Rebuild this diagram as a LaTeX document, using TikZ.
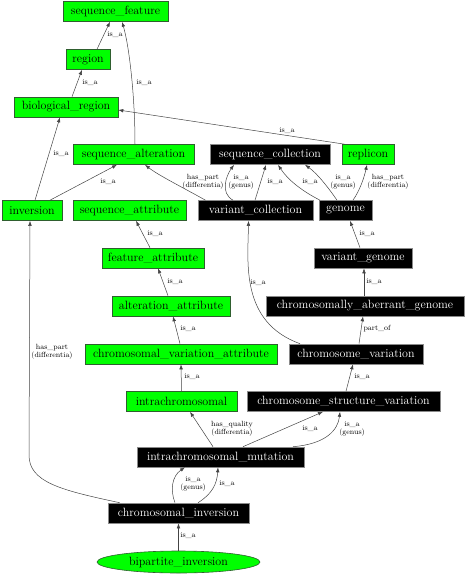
\documentclass[tikz,border=0pt]{standalone}
\usetikzlibrary{arrows.meta,shapes.geometric}
\definecolor{gfill}{HTML}{00FF00}
\definecolor{gline}{HTML}{2F5F2F}
\definecolor{bline}{HTML}{8A8A8A}
\definecolor{eline}{HTML}{444444}
\begin{document}
\begin{tikzpicture}[x=1pt,y=-1pt,
  base/.style={rectangle,minimum height=20pt,inner sep=1pt,font=\fontsize{12}{13}\selectfont},
  gbox/.style={base,fill=gfill,draw=gline,line width=0.6pt,text=black},
  bbox/.style={base,fill=black,draw=bline,line width=0.6pt,text=white},
  gell/.style={ellipse,fill=gfill,draw=gline,line width=0.6pt,inner sep=1pt,font=\fontsize{12}{13}\selectfont},
  edge/.style={draw=eline,line width=0.5pt,-{Latex[length=5pt,width=3.6pt]}},
  lbl/.style={font=\fontsize{7.5}{7.5}\selectfont,inner sep=0pt,align=center}]
\useasboundingbox (0,0) rectangle (466,576);
% nodes
\node[gbox,minimum width=105pt] (sf) at (115.5,11.5) {sequence\_feature};
\node[gbox,minimum width=44pt] (rg) at (88,59.5) {region};
\node[gbox,minimum width=104pt] (br) at (66,107) {biological\_region};
\node[gbox,minimum width=121pt] (sa) at (133.5,154.5) {sequence\_alteration};
\node[bbox,minimum width=120pt] (sc) at (270,154.5) {sequence\_collection};
\node[gbox,minimum width=52pt] (rp) at (368,154.5) {replicon};
\node[gbox,minimum width=60pt] (inv) at (32,210.5) {inversion};
\node[gbox,minimum width=113pt] (sat) at (129.5,210.5) {sequence\_attribute};
\node[bbox,minimum width=115pt] (vc) at (255.5,210.5) {variant\_collection};
\node[bbox,minimum width=53pt] (gn) at (345.5,210.5) {genome};
\node[gbox,minimum width=102pt] (fa) at (153,258) {feature\_attribute};
\node[bbox,minimum width=98pt] (vg) at (363,258) {variant\_genome};
\node[gbox,minimum width=118pt] (aa) at (171,306) {alteration\_attribute};
\node[bbox,minimum width=198pt] (cag) at (365,306) {chromosomally\_aberrant\_genome};
\node[gbox,minimum width=192pt] (cva) at (181,354) {chromosomal\_variation\_attribute};
\node[bbox,minimum width=134pt] (cv) at (356,354) {chromosome\_variation};
\node[gbox,minimum width=111pt] (ic) at (181.5,401.5) {intrachromosomal};
\node[bbox,minimum width=193pt] (csv) at (343.5,401.5) {chromosome\_structure\_variation};
\node[bbox,minimum width=167pt] (im) at (220.5,457) {intrachromosomal\_mutation};
\node[bbox,minimum width=141pt] (ci) at (178.5,513) {chromosomal\_inversion};
\node[gell,minimum width=163pt,minimum height=22pt] (bi) at (178.5,562) {bipartite\_inversion};
% edges
\draw[edge] ([xshift=9pt]rg.north) -- ([xshift=-5.5pt]sf.south);
\draw[edge] ([xshift=6pt]br.north) -- ([xshift=-6pt]rg.south);
\draw[edge] ([xshift=1.5pt]sa.north) .. controls (135,95) and (129,45) .. ([xshift=6.5pt]sf.south);
\draw[edge] ([xshift=3pt]inv.north) -- ([xshift=-6pt]br.south);
\draw[edge] ([xshift=18pt]inv.north) -- ([xshift=-16.5pt]sa.south);
\draw[edge] ([xshift=-50pt]vc.north) .. controls (180,186) and (158,175) .. ([xshift=11.5pt]sa.south);
\draw[edge] ([xshift=-22.5pt]vc.north) .. controls (220,193) and (226,176) .. ([xshift=-36pt]sc.south);
\draw[edge] ([xshift=-0.5pt]vc.north) -- ([xshift=-4pt]sc.south);
\draw[edge] ([xshift=-25.5pt]gn.north) .. controls (302,191) and (288,180) .. ([xshift=8pt]sc.south);
\draw[edge] ([xshift=-8.5pt]gn.north) .. controls (330,190) and (318,174) .. ([xshift=35pt]sc.south);
\draw[edge] ([xshift=7.5pt]gn.north) .. controls (360,190) and (364,178) .. ([xshift=-1pt]rp.south);
\draw[edge] ([xshift=3pt]rp.north west) -- ([yshift=-3pt]br.east);
\draw[edge] ([xshift=-3pt]fa.north) -- ([xshift=6.5pt]sat.south);
\draw[edge] ([xshift=-3pt]aa.north) -- ([xshift=5pt]fa.south);
\draw[edge] ([xshift=-1pt]cva.north) -- ([xshift=2pt]aa.south);
\draw[edge] (ic.north) -- (cva.south);
\draw[edge] ([xshift=-3pt]vg.north) -- ([xshift=4.5pt]gn.south);
\draw[edge] ([xshift=-1pt]cag.north) -- ([xshift=1pt]vg.south);
\draw[edge] ([xshift=3pt]cv.north) -- ([xshift=-2pt]cag.south);
\draw[edge] ([xshift=-56pt]cv.north) .. controls (240,322) and (248,262) .. ([xshift=-7pt]vc.south);
\draw[edge] ([xshift=2.5pt]csv.north) -- ([xshift=-3pt]cv.south);
\draw[edge] ([xshift=-7.5pt]im.north) -- ([xshift=8.5pt]ic.south);
\draw[edge] ([xshift=22.5pt]im.north) -- ([xshift=-20.5pt]csv.south);
\draw[edge] ([xshift=72.5pt]im.north) .. controls (326,444) and (338,430) .. ([xshift=-3.5pt]csv.south);
\draw[edge] ([xshift=-3.5pt]ci.north) .. controls (170,490) and (172,476) .. ([xshift=-35.5pt]im.south);
\draw[edge] ([xshift=19.5pt]ci.north) .. controls (212,494) and (217,484) .. ([xshift=-2.5pt]im.south);
\draw[edge] (bi.north) -- (ci.south);
\draw[edge] ([xshift=12pt]ci.north west) .. controls (60,490) and (29,482) .. (29,455) -- ([xshift=-2pt]inv.south);
% labels
\node[lbl] (l1) at (115,35) {is\_a};
\node[lbl] (l2) at (90,83) {is\_a};
\node[lbl] (l3) at (144,83) {is\_a};
\node[lbl] (l4) at (61,154) {is\_a};
\node[lbl] (l5) at (108,182) {is\_a};
\node[lbl] (l6) at (203,182) {has\_part\\(differentia)};
\node[lbl] (l7) at (241,182) {is\_a\\(genus)};
\node[lbl] (l8) at (275,182) {is\_a};
\node[lbl] (l9) at (310,182) {is\_a};
\node[lbl] (l10) at (343,182) {is\_a\\(genus)};
\node[lbl] (l11) at (388,182) {has\_part\\(differentia)};
\node[lbl] (l12) at (287,131) {is\_a};
\node[lbl] (l13) at (155,234) {is\_a};
\node[lbl] (l14) at (175,282) {is\_a};
\node[lbl] (l15) at (188,329) {is\_a};
\node[lbl] (l16) at (192,377) {is\_a};
\node[lbl] (l17) at (367,234) {is\_a};
\node[lbl] (l18) at (374,282) {is\_a};
\node[lbl] (l19) at (377,329) {part\_of};
\node[lbl] (l20) at (258,283) {is\_a};
\node[lbl] (l21) at (362,377) {is\_a};
\node[lbl] (l22) at (232,429) {has\_quality\\(differentia)};
\node[lbl] (l23) at (310,429) {is\_a};
\node[lbl] (l24) at (352,429) {is\_a\\(genus)};
\node[lbl] (l25) at (193,484) {is\_a\\(genus)};
\node[lbl] (l26) at (227,484) {is\_a};
\node[lbl] (l27) at (188,536) {is\_a};
\node[lbl] (l28) at (52,352) {has\_part\\(differentia)};
\end{tikzpicture}
\end{document}
